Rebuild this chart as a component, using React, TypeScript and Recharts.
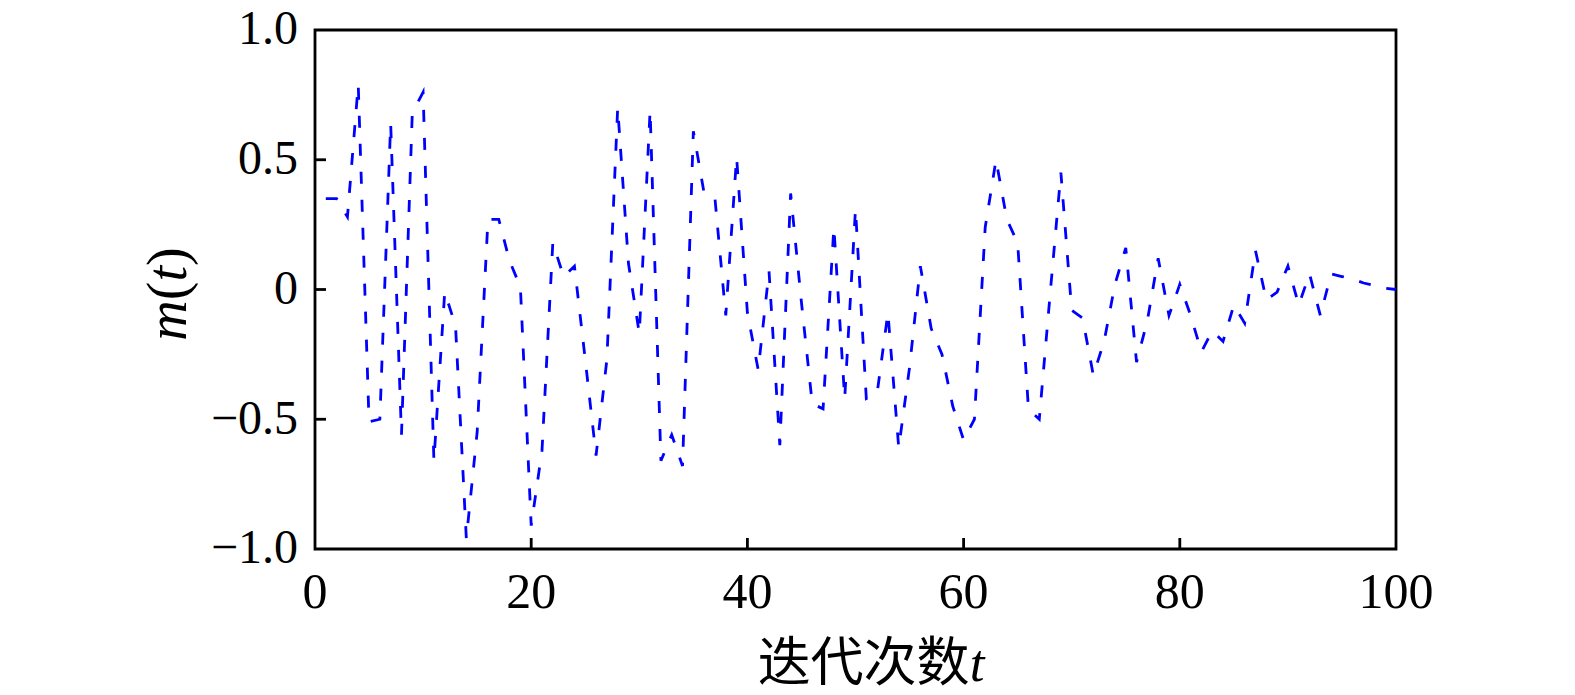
import React from 'react';
import { LineChart, Line, XAxis, YAxis, ReferenceArea, Label } from 'recharts';

// iteration index t
const iterations = [
  1, 2, 3, 4, 5, 6, 7, 8, 9, 10,
  11, 12, 13, 14, 15, 16, 17, 18, 19, 20,
  21, 22, 23, 24, 25, 26, 27, 28, 29, 30,
  31, 32, 33, 34, 35, 36, 37, 38, 39, 40,
  41, 42, 43, 44, 45, 46, 47, 48, 49, 50,
  51, 52, 53, 54, 55, 56, 57, 58, 59, 60,
  61, 62, 63, 64, 65, 66, 67, 68, 69, 70,
  71, 72, 73, 74, 75, 76, 77, 78, 79, 80,
  81, 82, 83, 84, 85, 86, 87, 88, 89, 90,
  91, 92, 93, 94, 95, 96, 97, 98, 99, 100,
];

// m(t)
const mValues = [
  0.35, 0.35, 0.28, 0.79, -0.51, -0.5, 0.64, -0.56, 0.68, 0.76,
  -0.66, -0.01, -0.14, -0.96, -0.55, 0.27, 0.27, 0.11, 0.01, -0.91,
  -0.62, 0.18, 0.05, 0.09, -0.27, -0.64, -0.27, 0.7, 0.1, -0.17,
  0.69, -0.66, -0.56, -0.68, 0.61, 0.37, 0.35, -0.1, 0.51, -0.09,
  -0.31, 0.07, -0.6, 0.37, -0.05, -0.44, -0.46, 0.24, -0.42, 0.31,
  -0.42, -0.4, -0.09, -0.61, -0.3, 0.09, -0.15, -0.25, -0.45, -0.58,
  -0.5, 0.24, 0.5, 0.27, 0.18, -0.46, -0.5, -0.02, 0.45, -0.08,
  -0.11, -0.33, -0.2, 0.02, 0.16, -0.28, -0.12, 0.12, -0.1, 0.02,
  -0.1, -0.24, -0.16, -0.2, -0.06, -0.13, 0.15, -0.04, -0.01, 0.09,
  -0.06, 0.06, -0.1, 0.06, 0.05, 0.04, 0.025, 0.015, 0.005, 0,
];

const xTicks = [0, 20, 40, 60, 80, 100];
const yTicks = [-1, -0.5, 0, 0.5, 1];

const data = iterations.map((t, i) => ({ t, m: mValues[i] }));

const PLOT_LEFT = 315;
const PLOT_BOTTOM = 549;
const TICK_LEN = 11;
const SERIF = '"Liberation Serif", "Times New Roman", serif';

const fmtY = (v: number) => (v === 0 ? '0' : (v < 0 ? '\u2212' : '') + Math.abs(v).toFixed(1));

const YTick = (props: any) => {
  const { y, payload } = props;
  const v = payload.value;
  return (
    <g>
      {Math.abs(v) < 1 && (
        <line x1={PLOT_LEFT} x2={PLOT_LEFT + TICK_LEN} y1={y} y2={y} stroke="#000" strokeWidth={2.8} />
      )}
      <text x={PLOT_LEFT - 17} y={y} dy="0.3em" textAnchor="end" fontFamily={SERIF} fontSize={48} fill="#000">
        {fmtY(v)}
      </text>
    </g>
  );
};

const XTick = (props: any) => {
  const { x, payload } = props;
  const v = payload.value;
  return (
    <g>
      {v > 0 && v < 100 && (
        <line x1={x} x2={x} y1={PLOT_BOTTOM} y2={PLOT_BOTTOM - TICK_LEN} stroke="#000" strokeWidth={2.8} />
      )}
      <text x={x} y={608} textAnchor="middle" fontFamily={SERIF} fontSize={50} fill="#000">
        {v}
      </text>
    </g>
  );
};

export default function App() {
  return (
    <div style={{ position: 'absolute', left: 0, top: 0, width: 1575, height: 695, background: '#fff' }}>
      <LineChart width={1575} height={695} data={data} margin={{ top: 30, right: 179, bottom: 0, left: 0 }}>
        <XAxis
          dataKey="t"
          type="number"
          domain={[0, 100]}
          ticks={xTicks}
          height={146}
          axisLine={false}
          tickLine={false}
          tick={<XTick />}
          interval={0}
        >
          <Label
            content={() => (
              <text x={871} y={681} textAnchor="middle" fill="#000">
                <tspan fontFamily='"Noto Sans CJK SC", sans-serif' fontSize={53}>迭代次数</tspan>
                <tspan fontFamily={SERIF} fontStyle="italic" fontSize={53}>t</tspan>
              </text>
            )}
          />
        </XAxis>
        <YAxis
          type="number"
          domain={[-1, 1]}
          ticks={yTicks}
          width={315}
          axisLine={false}
          tickLine={false}
          tick={<YTick />}
          interval={0}
        >
          <Label
            content={() => (
              <text
                transform="translate(186,294) rotate(-90)"
                textAnchor="middle"
                fontFamily={SERIF}
                fontSize={56}
                fill="#000"
              >
                <tspan fontStyle="italic">m</tspan>
                <tspan>(</tspan>
                <tspan fontStyle="italic">t</tspan>
                <tspan>)</tspan>
              </text>
            )}
          />
        </YAxis>
        <ReferenceArea x1={0} x2={100} y1={-1} y2={1} fill="none" stroke="#000" strokeWidth={2.8} />
        <Line
          type="linear"
          dataKey="m"
          stroke="#0000ff"
          strokeWidth={2.8}
          strokeDasharray="12 16"
          dot={false}
          isAnimationActive={false}
        />
      </LineChart>
    </div>
  );
}
